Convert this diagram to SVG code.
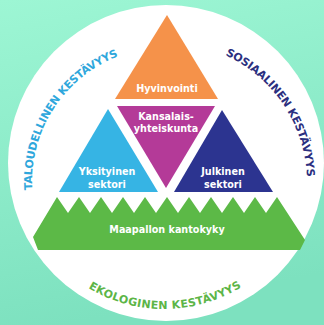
<svg xmlns="http://www.w3.org/2000/svg" width="324" height="325" viewBox="0 0 324 325">
<defs>
<linearGradient id="bg" x1="0" y1="0" x2="0.2" y2="1">
<stop offset="0" stop-color="#9df6d4"/>
<stop offset="1" stop-color="#7de1bf"/>
</linearGradient>
<path id="arcL" d="M32.2,190 A135,135 0 0 1 143.6,49.1"/>
<path id="arcR" d="M225.2,55 A141,141 0 0 1 304.9,207.5"/>
<path id="arcB" d="M88.3,288 A147,147 0 0 0 258.5,274.6"/>
</defs>
<style>
.lbl{font-family:"DejaVu Sans",Verdana,sans-serif;font-weight:bold;font-size:9.6px;fill:#ffffff;text-anchor:middle}
.arc{font-family:"DejaVu Sans",Verdana,sans-serif;font-weight:bold;font-size:11px}
</style>
<rect x="0" y="0" width="324" height="325" fill="url(#bg)"/>
<circle cx="166" cy="163" r="158" fill="#ffffff"/>
<g id="hyvinvointi">
<polygon points="167,15 115,99 218,99" fill="#f5924a"/>
<text class="lbl" x="167" y="91.5">Hyvinvointi</text>
</g>
<g id="kansalaisyhteiskunta">
<polygon points="117,106 215,106 166,188" fill="#b43a98"/>
<text class="lbl" x="166" y="120">Kansalais-</text>
<text class="lbl" x="166" y="132">yhteiskunta</text>
</g>
<g id="yksityinen">
<polygon points="108,109 59,192 158,192" fill="#36b4e4"/>
<text class="lbl" x="107" y="175">Yksityinen</text>
<text class="lbl" x="107" y="187.5">sektori</text>
</g>
<g id="julkinen">
<polygon points="222,110 174,192 273,192" fill="#2c3490"/>
<text class="lbl" x="223" y="175">Julkinen</text>
<text class="lbl" x="223" y="187.5">sektori</text>
</g>
<g id="maapallo">
<polygon points="33,237 57,197 68,213 79,197 90,213 101,197 112,213 123,197 134,213 145,197 156,213 167,197 178,213 189,197 200,213 211,197 222,213 233,197 244,213 255,197 266,213 277,197 305,240 300,250 38,250" fill="#5cb947"/>
<text class="lbl" x="167" y="233">Maapallon kantokyky</text>
</g>
<g id="connectors"></g>
<g id="taloudellinen">
<text class="arc" fill="#2fa7dc"><textPath href="#arcL" textLength="170" lengthAdjust="spacing">TALOUDELLINEN KESTÄVYYS</textPath></text>
</g>
<g id="sosiaalinen">
<text class="arc" fill="#2b2f80"><textPath href="#arcR" textLength="154" lengthAdjust="spacing">SOSIAALINEN KESTÄVYYS</textPath></text>
</g>
<g id="ekologinen">
<text class="arc" fill="#5cb547"><textPath href="#arcB" textLength="161" lengthAdjust="spacing">EKOLOGINEN KESTÄVYYS</textPath></text>
</g>
</svg>
